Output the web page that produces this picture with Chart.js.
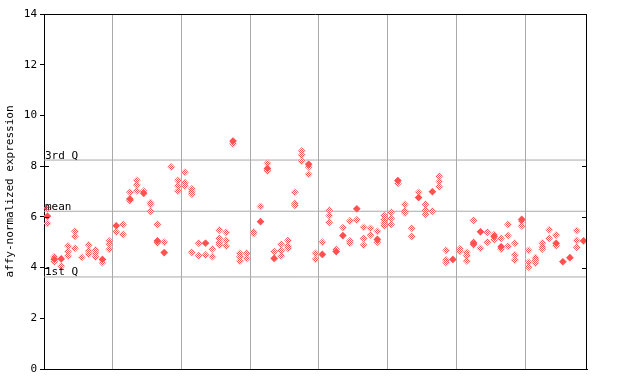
<!DOCTYPE html>
<html><head><meta charset="utf-8">
<script src="https://cdn.jsdelivr.net/npm/chart.js@4/dist/chart.umd.min.js"></script>
<style>html,body{margin:0;padding:0;background:#fff}#wrap{width:640px;height:384px}</style>
</head><body><div id="wrap"><canvas id="c" width="640" height="384"></canvas></div>
<script>
// expression values per sample (column)
const sampleValues = [
  [6.34, 6.03, 5.74], [4.43, 4.33, 4.23], [4.34, 4.06], [4.85, 4.63, 4.46], [5.43, 5.23, 4.76],
  [4.40], [4.89, 4.66, 4.53], [4.69, 4.56, 4.42], [4.32, 4.19], [5.05, 4.93, 4.72],
  [5.65, 5.41], [5.70, 5.31], [6.97, 6.70, 6.64], [7.44, 7.26, 7.02], [7.02, 6.93],
  [6.56, 6.49, 6.22], [5.70, 5.05, 4.98], [5.00, 4.59], [7.97], [7.44, 7.22, 7.02],
  [7.76, 7.35, 7.22], [7.10, 6.99, 6.90, 4.60], [4.96, 4.47], [4.96, 4.50], [4.73, 4.43],
  [5.48, 5.15, 4.98, 4.89], [5.39, 5.07, 4.85], [8.99, 8.88], [4.56, 4.43, 4.26], [4.56, 4.36],
  [5.41, 5.34], [6.41, 5.81], [8.11, 7.91, 7.82], [4.63, 4.36], [4.92, 4.67, 4.46],
  [5.07, 4.85, 4.76], [6.97, 6.53, 6.45], [8.60, 8.44, 8.20], [8.07, 7.97, 7.68], [4.56, 4.33],
  [5.00, 4.52], [6.26, 6.05, 5.78], [4.72, 4.63], [5.58, 5.26], [5.84, 5.05, 4.96],
  [6.32, 5.88], [5.59, 5.15, 4.89], [5.55, 5.28], [5.43, 5.11, 5.00], [6.05, 5.89, 5.77, 5.65],
  [6.18, 5.94, 5.70], [7.43, 7.32], [6.49, 6.23, 6.16], [5.55, 5.23], [6.97, 6.76],
  [6.49, 6.26, 6.10], [6.99, 6.22], [7.60, 7.39, 7.19], [4.68, 4.30, 4.19], [4.32],
  [4.74, 4.64], [4.60, 4.47, 4.26], [5.86, 5.00, 4.90], [5.41, 4.76], [5.39, 5.00],
  [5.30, 5.23, 5.10], [5.15, 4.82, 4.73], [5.70, 5.26, 4.84], [4.96, 4.50, 4.30], [5.90, 5.82, 5.64],
  [4.68, 4.21, 4.02], [4.39, 4.29, 4.17], [4.97, 4.82, 4.73], [5.49, 5.15], [5.28, 4.96, 4.86],
  [4.23], [4.39], [5.46, 5.07, 4.80], [5.05]
];
// solid (highlighted) marker per sample, null where none
const highlightValues = [
  6.03, 4.33, 4.34, null, null, null, null, null, 4.32, null,
  5.65, null, 6.70, null, 6.93, null, 5.05, 4.59, null, null,
  null, null, null, 4.96, null, null, null, 8.99, null, null,
  null, 5.81, 7.91, 4.36, null, null, null, null, 8.07, null,
  4.52, null, 4.63, 5.26, null, 6.32, null, null, 5.11, null,
  null, 7.43, null, null, 6.76, null, 6.99, null, null, 4.32,
  null, null, 4.95, 5.41, null, 5.23, 4.82, null, null, 5.90,
  null, null, null, null, 4.96, 4.23, 4.39, null, 5.05
];
const groupBoundaries = [9.5, 19.5, 29.5, 39.5, 49.5, 59.5, 69.5];
const yTickValues = [0, 2, 4, 6, 8, 10, 12, 14];
const innerTickValues = [4, 6, 8];
const quartileValues = [3.63, 6.22, 8.24];
const quartileLabels = ['1st Q', 'mean', '3rd Q'];
const axisTitle = 'affy-normalized expression';

const FONT = "'DejaVu Sans Mono', monospace";
const RED = 'rgb(255,80,80)';
const GRID = '#aaaaaa';
const xMin = -0.5, xMax = sampleValues.length - 0.5;

function checker(color) {
  const c = document.createElement('canvas'); c.width = 2; c.height = 2;
  const g = c.getContext('2d');
  g.fillStyle = '#ffffff'; g.fillRect(0, 0, 2, 2);
  g.fillStyle = color; g.fillRect(0, 0, 1, 1); g.fillRect(1, 1, 1, 1);
  return g.createPattern(c, 'repeat');
}

const replicatePoints = [];
sampleValues.forEach((vals, i) => vals.forEach(v => replicatePoints.push({x: i, y: v})));
const highlightPoints = [];
highlightValues.forEach((v, i) => { if (v !== null) highlightPoints.push({x: i, y: v}); });

const datasets = [
  {data: highlightPoints, pointStyle: 'rectRot', pointRadius: 3.6, backgroundColor: RED, borderWidth: 0, order: 0},
  {data: replicatePoints, pointStyle: 'rectRot', pointRadius: 3.6, backgroundColor: checker(RED), borderColor: 'rgba(255,80,80,0.5)', borderWidth: 0.6, order: 1}
];
quartileValues.forEach(q => datasets.push({
  type: 'line', data: [{x: xMin, y: q}, {x: xMax, y: q}], borderColor: GRID, borderWidth: 1,
  pointRadius: 0, fill: false, order: 5
}));

const decor = {
  id: 'decor',
  afterDatasetsDraw(chart) {
    const {ctx, chartArea: a, scales: {y}} = chart;
    ctx.save();
    ctx.strokeStyle = '#000'; ctx.lineWidth = 1;
    ctx.beginPath();
    ctx.moveTo(a.left, a.top + 0.5); ctx.lineTo(a.right, a.top + 0.5);
    ctx.moveTo(a.right - 0.5, a.top); ctx.lineTo(a.right - 0.5, a.bottom);
    innerTickValues.forEach(v => {
      const py = Math.round(y.getPixelForValue(v)) + 0.5;
      ctx.moveTo(a.left, py); ctx.lineTo(a.left + 5, py);
      ctx.moveTo(a.right - 5, py); ctx.lineTo(a.right, py);
    });
    ctx.stroke();
    ctx.fillStyle = '#000'; ctx.font = '11px ' + FONT;
    ctx.textAlign = 'left'; ctx.textBaseline = 'alphabetic';
    quartileValues.forEach((q, i) => {
      const py = y.getPixelForValue(q);
      ctx.fillText(quartileLabels[i], a.left + 1, py - 1.5);
    });
    ctx.restore();
  }
};

new Chart(document.getElementById('c'), {
  type: 'scatter',
  data: {datasets},
  plugins: [decor],
  options: {
    responsive: false, animation: false, devicePixelRatio: 1,
    layout: {padding: {left: 0, right: 53, top: 14, bottom: 15}},
    plugins: {legend: {display: false}, tooltip: {enabled: false}},
    scales: {
      x: {
        type: 'linear', min: xMin, max: xMax,
        afterBuildTicks: s => { s.ticks = groupBoundaries.map(v => ({value: v})); },
        ticks: {display: false},
        grid: {display: true, color: GRID, lineWidth: 1, drawTicks: false},
        border: {display: true, color: '#000', width: 1}
      },
      y: {
        min: 0, max: 14,
        afterBuildTicks: s => { s.ticks = yTickValues.map(v => ({value: v})); },
        afterFit: s => { s.width = 44; },
        ticks: {color: '#000', font: {family: FONT, size: 11}, padding: 3},
        grid: {display: true, drawOnChartArea: false, drawTicks: true, tickLength: 4, color: '#000'},
        border: {display: true, color: '#000', width: 1},
        title: {display: true, text: axisTitle, color: '#000', font: {family: FONT, size: 11}, padding: {top: 4, bottom: 0}}
      }
    }
  }
});
</script></body></html>
